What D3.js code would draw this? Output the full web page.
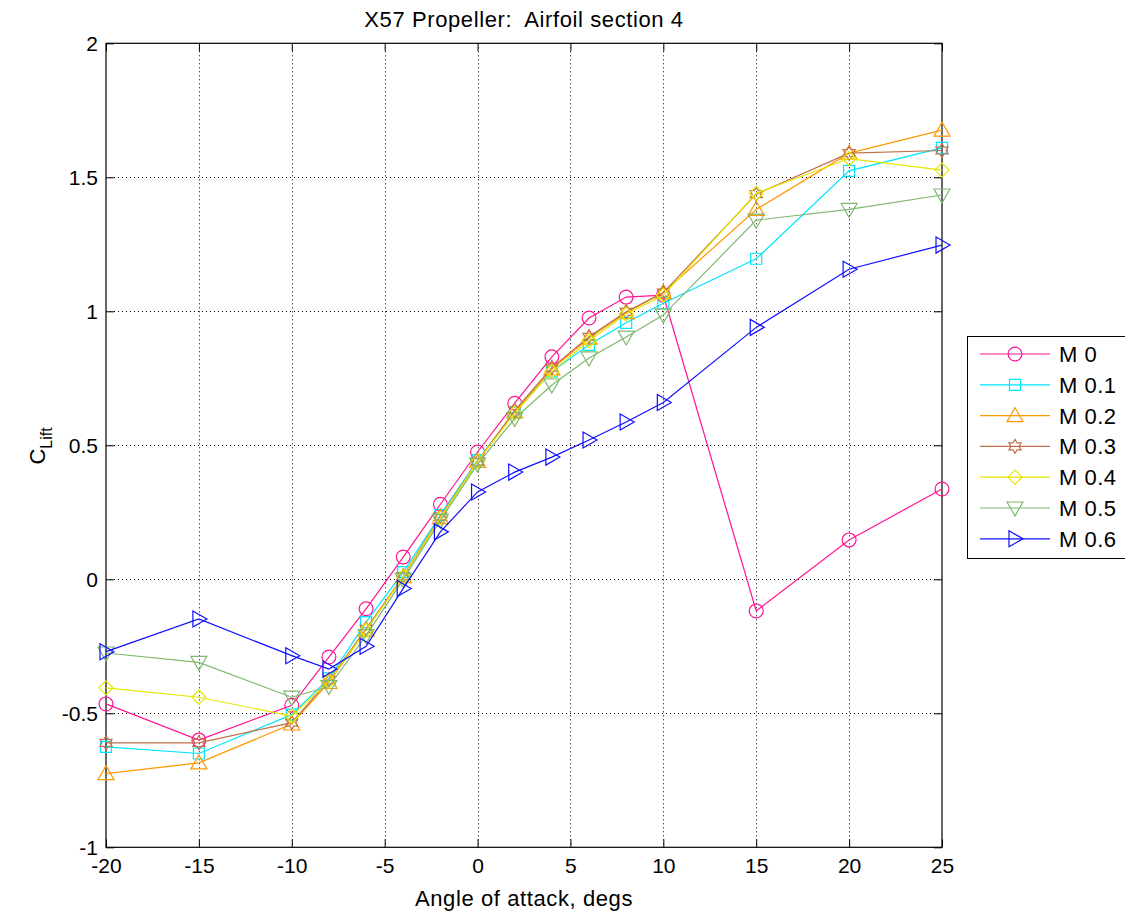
<!DOCTYPE html>
<html><head><meta charset="utf-8">
<script src="https://cdn.jsdelivr.net/npm/d3@7"></script>
<style>body{margin:0;background:#fff;} svg{display:block;font-family:"Liberation Sans",Arial,sans-serif;} text{white-space:pre;}</style>
</head><body>
<svg id="c" width="1125" height="916"></svg>
<script>
const angles = [-20,-15,-10,-8,-6,-4,-2,0,2,4,6,8,10,15,20,25];
const m00 = [-0.465,-0.60,-0.47,-0.29,-0.11,0.083,0.28,0.475,0.657,0.83,0.975,1.053,1.06,-0.118,0.147,0.337];
const m01 = [-0.625,-0.65,-0.505,-0.37,-0.16,0.027,0.24,0.445,0.622,0.775,0.875,0.957,1.03,1.196,1.524,1.61];
const m02 = [-0.725,-0.685,-0.54,-0.385,-0.19,0.01,0.23,0.44,0.625,0.785,0.90,0.995,1.07,1.38,1.59,1.676];
const m03 = [-0.61,-0.61,-0.535,-0.375,-0.185,0.012,0.235,0.44,0.63,0.79,0.905,0.998,1.07,1.437,1.59,1.60];
const m04 = [-0.405,-0.44,-0.51,-0.38,-0.19,0.01,0.23,0.44,0.62,0.775,0.89,0.99,1.06,1.44,1.57,1.527];
const m05 = [-0.275,-0.31,-0.44,-0.40,-0.21,0.0,0.22,0.43,0.60,0.725,0.826,0.904,0.986,1.34,1.38,1.434];
const m06 = [-0.27,-0.148,-0.285,-0.335,-0.25,-0.034,0.177,0.326,0.40,0.456,0.52,0.587,0.66,0.94,1.157,1.247];
const seriesNames = ["M 0","M 0.1","M 0.2","M 0.3","M 0.4","M 0.5","M 0.6"];
const seriesColors = ["#ff1493","#00e5ff","#ff9900","#c0704a","#e6e600","#80b870","#1010ff"];
const seriesMarkers = ["circle","square","triangleUp","hexagram","diamond","triangleDown","triangleRight"];
const xTicks = [-20,-15,-10,-5,0,5,10,15,20,25];
const xTickLabels = ["-20","-15","-10","-5","0","5","10","15","20","25"];
const yTicks = [-1,-0.5,0,0.5,1,1.5,2];
const yTickLabels = ["-1","-0.5","0","0.5","1","1.5","2"];
const seriesValues = [m00,m01,m02,m03,m04,m05,m06];

const FONT = "Liberation Sans, Arial, sans-serif";
const svg = d3.select("#c");
const L=106, R=942, T=43.3, B=847.3;
const x = d3.scaleLinear().domain([-20,25]).range([L,R]);
const y = d3.scaleLinear().domain([-1,2]).range([B,T]);

// grid
const g = svg.append("g");
g.selectAll(".gx").data(xTicks.slice(1,-1)).enter().append("line")
 .attr("x1",d=>Math.round(x(d))+0.5).attr("x2",d=>Math.round(x(d))+0.5).attr("y1",T).attr("y2",B)
 .attr("stroke","#000").attr("stroke-width",1).attr("stroke-dasharray","1,3");
g.selectAll(".gy").data(yTicks.slice(1,-1)).enter().append("line")
 .attr("y1",d=>Math.round(y(d))+0.5).attr("y2",d=>Math.round(y(d))+0.5).attr("x1",L).attr("x2",R)
 .attr("stroke","#000").attr("stroke-width",1).attr("stroke-dasharray","1,3");

// axes (ticks inward)
const xAxisB = d3.axisBottom(x).tickValues(xTicks).tickSize(-8).tickPadding(11).tickFormat((d,i)=>xTickLabels[i]);
const xAxisT = d3.axisTop(x).tickValues(xTicks).tickSize(-8).tickFormat("");
const yAxisL = d3.axisLeft(y).tickValues(yTicks).tickSize(-8).tickPadding(8).tickFormat((d,i)=>yTickLabels[i]);
const yAxisR = d3.axisRight(y).tickValues(yTicks).tickSize(-8).tickFormat("");
function style(sel){sel.select(".domain").remove();sel.selectAll("line").attr("stroke","#000");sel.selectAll("text").attr("font-size",21).attr("fill","#000").attr("font-family",FONT);}
svg.append("g").attr("transform",`translate(0,${B})`).call(xAxisB).call(style);
svg.append("g").attr("transform",`translate(0,${T})`).call(xAxisT).call(style);
svg.append("g").attr("transform",`translate(${L},0)`).call(yAxisL).call(style);
svg.append("g").attr("transform",`translate(${R},0)`).call(yAxisR).call(style);
svg.append("rect").attr("x",L).attr("y",T).attr("width",R-L).attr("height",B-T)
 .attr("fill","none").attr("stroke","#000").attr("stroke-width",1.2);

function markerPath(type){
  switch(type){
    case "circle": return d3.symbol(d3.symbolCircle,150)();
    case "square": return "M-5.5,-5.5H5.5V5.5H-5.5Z";
    case "triangleUp": return "M0,-8L8,6H-8Z";
    case "triangleDown": return "M0,8L8,-6H-8Z";
    case "triangleRight": return "M8,0L-6,-8V8Z";
    case "diamond": return "M0,-7L7,0L0,7L-7,0Z";
    case "hexagram": {
      let p=[];for(let i=0;i<12;i++){const a=Math.PI/6*i - Math.PI/2;const r=i%2===0?7:4;p.push([r*Math.cos(a),r*Math.sin(a)]);}
      return "M"+p.map(q=>q[0].toFixed(2)+","+q[1].toFixed(2)).join("L")+"Z";
    }
  }
}

const line = d3.line().x((d,i)=>x(angles[i])).y(d=>y(d));
const plot = svg.append("g");
seriesValues.forEach((vals,s)=>{
  plot.append("path").datum(vals).attr("d",line).attr("fill","none")
    .attr("stroke",seriesColors[s]).attr("stroke-width",1.2);
  plot.selectAll(null).data(vals).enter().append("path")
    .attr("transform",(d,i)=>`translate(${x(angles[i])},${y(d)})`)
    .attr("d",markerPath(seriesMarkers[s])).attr("fill","none")
    .attr("stroke",seriesColors[s]).attr("stroke-width",1.2);
});

// title and labels
svg.append("text").attr("x",(L+R)/2).attr("y",27).attr("text-anchor","middle")
 .attr("font-size",22).attr("letter-spacing",0.6).text("X57 Propeller:  Airfoil section 4");
svg.append("text").attr("x",(L+R)/2).attr("y",906).attr("text-anchor","middle")
 .attr("font-size",22).attr("letter-spacing",0.6).text("Angle of attack, degs");
const yl = svg.append("text").attr("transform","translate(45,446) rotate(-90)").attr("text-anchor","middle").attr("font-size",22);
yl.append("tspan").text("C");
yl.append("tspan").attr("font-size",16).attr("dy",7).text("Lift");

// legend
const lg = svg.append("g");
lg.append("rect").attr("x",967.5).attr("y",336.5).attr("width",170).attr("height",222)
 .attr("fill","#fff").attr("stroke","#000").attr("stroke-width",1);
seriesNames.forEach((n,s)=>{
  const yy = 354 + s*30.8;
  lg.append("line").attr("x1",980).attr("x2",1050).attr("y1",yy).attr("y2",yy)
   .attr("stroke",seriesColors[s]).attr("stroke-width",1.2);
  lg.append("path").attr("transform",`translate(1015,${yy})`).attr("d",markerPath(seriesMarkers[s]))
   .attr("fill","none").attr("stroke",seriesColors[s]).attr("stroke-width",1.2);
  lg.append("text").attr("x",1059).attr("y",yy+8).attr("font-size",22).attr("letter-spacing",0.5).text(n);
});
</script>
</body></html>
